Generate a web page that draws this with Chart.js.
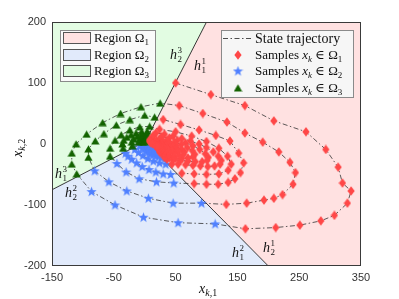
<!DOCTYPE html>
<html>
<head>
<meta charset="utf-8">
<script src="https://cdn.jsdelivr.net/npm/chart.js@4.4.0/dist/chart.umd.min.js"></script>
<style>
  html, body { margin: 0; padding: 0; background: #fff; }
  #wrap { width: 399px; height: 299px; }
</style>
</head>
<body>
<div id="wrap"><canvas id="chart" width="399" height="299"></canvas></div>
<script>
// axis ticks
var xTicks = [-150, -50, 50, 150, 250, 350];
var yTicks = [-200, -100, 0, 100, 200];

// region polygons (data coords), all share the corner where the hyperplanes meet
var regionRed   = [[1, 4], [100, 200], [350, 200], [350, -200], [200, -200]];
var regionGreen = [[1, 4], [-150, -75], [-150, 200], [100, 200]];
var regionBlue  = [[1, 4], [200, -200], [-150, -200], [-150, -75]];
var hyperplanes = [[[1, 4], [100, 200]], [[1, 4], [200, -200]], [[1, 4], [-150, -75]]];

// state trajectory, in time order (one line per arc)
var trajX = [
  50, 107, 162, 209, 261, 293, 313, 320, 334, 328, 307, 285, 251, 212, 163,
  114, 54, -2, -48, -86,
  -110, -118, -118, -111, -94, -68, -39, -6, 25,
  56, 94, 133, 162, 191, 217, 235, 244, 240, 223, 209, 193, 165, 132,
  92, 46, 6, -29, -58, -81,
  -91, -91, -80, -66, -46, -24, 0, 16,
  30, 58, 88, 115, 138, 152, 160, 155, 146, 135, 119, 100, 80,
  47, 19, -9, -30, -45,
  -56, -56, -48, -38, -24, -8, 8,
  24, 50, 76, 100, 120, 134, 140, 135, 120, 100, 80, 60,
  42, 30, 18, 7, -4, -13, -21, -27, -31,
  -35, -36, -34, -29, -22, -14, -5, 4,
  18, 32, 46, 60, 74, 88, 100, 111, 119, 124, 122, 113, 102, 90, 78, 66, 54, 44,
  34, 24, 14, 5, -3, -10, -16,
  -20, -21, -18, -12, -5, 3,
  14, 27, 40, 53, 66, 78, 89, 98, 103, 101, 93, 82, 70, 58, 46, 36,
  27, 18, 9, 2, -4, -8,
  -10, -8, -3, 4,
  12, 24, 36, 48, 59, 69, 77, 81, 78, 70, 60, 50, 40, 32,
  23, 15, 8, 3, -1,
  -3, -1, 2,
  8, 19, 30, 41, 51, 59, 64, 63, 56, 47, 38, 30,
  22, 14, 8, 3, 0,
  0,
  8, 18, 28, 38, 46, 52, 53, 47, 39, 31, 25,
  18, 12, 7, 4,
  0,
  9, 18, 27, 35, 41, 43, 38, 31, 24,
  17, 11, 7, 5,
  10, 19, 27, 33, 36, 32, 26,
  19, 13, 9,
  13, 21, 28, 31, 28, 22,
  16, 13,
  17, 23, 26, 24, 21, 19, 21
];
var trajY = [
  100, 81, 63, 38, 20, -9, -38, -64, -77, -97, -117, -126, -133, -137, -139,
  -131, -129, -120, -100, -78,
  -49, -33, -15, 0, 16, 35, 50, 61, 67,
  63, 50, 36, 18, 3, -13, -30, -47, -66, -83, -89, -92, -97, -99,
  -97, -97, -89, -77, -62, -44,
  -22, -8, 5, 17, 31, 40, 47, 44,
  40, 32, 23, 14, 5, -15, -31, -47, -57, -63, -66, -66, -65,
  -64, -62, -57, -46, -32,
  -20, -7, 6, 15, 23, 28, 29,
  24, 20, 13, 4, -7, -20, -33, -43, -49, -50, -49, -48,
  -50, -49, -46, -42, -37, -31, -25, -20, -15,
  -7, 0, 6, 11, 15, 18, 20, 21,
  18, 16, 13, 9, 5, 0, -6, -13, -20, -27, -33, -36, -37, -36, -35, -34, -33, -33,
  -33, -31, -28, -24, -19, -14, -9,
  -3, 3, 8, 12, 15, 17,
  14, 12, 10, 6, 2, -3, -9, -16, -22, -27, -29, -29, -28, -27, -26, -25,
  -23, -20, -17, -12, -7, -2,
  3, 8, 11, 12,
  10, 8, 6, 3, -1, -6, -11, -17, -21, -23, -24, -24, -23, -22,
  -20, -17, -13, -8, -3,
  3, 7, 9,
  7, 6, 4, 1, -3, -8, -13, -17, -19, -20, -19, -18,
  -16, -13, -9, -4, 1,
  5,
  5, 4, 2, -1, -5, -9, -13, -15, -16, -15, -14,
  -13, -10, -6, -2,
  4,
  3, 2, 0, -3, -7, -10, -12, -13, -12,
  -11, -8, -4, 0,
  2, 0, -2, -5, -8, -10, -10,
  -9, -6, -3,
  0, -1, -3, -6, -8, -8,
  -6, -3,
  -2, -3, -5, -6, -6, -4, -4
];
// which region each arc lies in (1 = red, 2 = blue, 3 = green) and how many samples it has
var arcRegion = [1, 2, 3, 1, 2, 3, 1, 2, 3, 1, 2, 3, 1, 2, 3, 1, 2, 3, 1, 2, 3, 1, 2, 3, 1, 2, 3, 1, 2, 1, 2, 1, 2, 1];
var arcLength = [15, 5, 9, 14, 6, 8, 13, 5, 7, 12, 9, 8, 18, 7, 6, 16, 6, 4, 14, 5, 3, 12, 5, 1, 11, 4, 1, 9, 4, 7, 3, 6, 2, 7];

var trajRegion = [];
arcRegion.forEach(function (r, i) {
  for (var k = 0; k < arcLength[i]; k++) trajRegion.push(r);
});
if (trajRegion.length !== trajX.length || trajX.length !== trajY.length) {
  console.error('length mismatch', trajRegion.length, trajX.length, trajY.length);
}

var RED = '#ff4747', BLUE = '#4f80ff', GREEN = '#136300';
var FILL = { 1: '#ffe1e1', 2: '#e1eafb', 3: '#e2fce2' };
var SERIF = '"Liberation Serif", "DejaVu Serif", serif';

function makeMarker(kind, color) {
  var c = document.createElement('canvas');
  var g;
  if (kind === 'diamond') {
    c.width = 8; c.height = 10;
    g = c.getContext('2d');
    g.beginPath();
    g.moveTo(4, 0.3); g.lineTo(7.6, 5); g.lineTo(4, 9.7); g.lineTo(0.4, 5);
  } else if (kind === 'star') {
    c.width = 11; c.height = 11;
    g = c.getContext('2d');
    g.beginPath();
    for (var i = 0; i < 10; i++) {
      var r = i % 2 === 0 ? 5.4 : 2.2;
      var a = -Math.PI / 2 + i * Math.PI / 5;
      var px = 5.5 + r * Math.cos(a), py = 5.9 + r * Math.sin(a);
      if (i === 0) g.moveTo(px, py); else g.lineTo(px, py);
    }
  } else {
    c.width = 9; c.height = 8;
    g = c.getContext('2d');
    g.beginPath();
    g.moveTo(4.5, 0.3); g.lineTo(8.7, 7.6); g.lineTo(0.3, 7.6);
  }
  g.closePath();
  g.fillStyle = color;
  g.fill();
  return c;
}
var markers = {
  1: makeMarker('diamond', RED),
  2: makeMarker('star', BLUE),
  3: makeMarker('triangle', GREEN)
};

function samples(region) {
  var out = [];
  for (var i = 0; i < trajX.length; i++) {
    if (trajRegion[i] === region) out.push({ x: trajX[i], y: trajY[i] });
  }
  return out;
}
var path = trajX.map(function (x, i) { return { x: x, y: trajY[i] }; });

// draws text pieces one after another: [text, font, dy]
function rich(ctx, x, y, parts) {
  ctx.textBaseline = 'alphabetic';
  ctx.textAlign = 'left';
  parts.forEach(function (p) {
    ctx.font = p[1];
    ctx.fillText(p[0], x, y + (p[2] || 0));
    x += ctx.measureText(p[0]).width;
  });
  return x;
}
function hLabel(ctx, x, y, sup, sub) {
  ctx.fillStyle = '#111';
  ctx.font = 'italic 14px ' + SERIF;
  ctx.textAlign = 'left';
  ctx.textBaseline = 'alphabetic';
  ctx.fillText('h', x, y);
  var w = ctx.measureText('h').width + 0.5;
  ctx.font = '9px ' + SERIF;
  ctx.fillText(sup, x + w, y - 6);
  ctx.fillText(sub, x + w, y + 3);
}

var backdrop = {
  id: 'backdrop',
  beforeDatasetsDraw: function (chart) {
    var ctx = chart.ctx, a = chart.chartArea;
    var sx = chart.scales.x, sy = chart.scales.y;
    ctx.save();
    ctx.beginPath();
    ctx.rect(a.left, a.top, a.right - a.left, a.bottom - a.top);
    ctx.clip();
    [[regionRed, 1], [regionGreen, 3], [regionBlue, 2]].forEach(function (r) {
      ctx.beginPath();
      r[0].forEach(function (p, i) {
        var px = sx.getPixelForValue(p[0]), py = sy.getPixelForValue(p[1]);
        if (i === 0) ctx.moveTo(px, py); else ctx.lineTo(px, py);
      });
      ctx.closePath();
      ctx.fillStyle = FILL[r[1]];
      ctx.fill();
    });
    ctx.strokeStyle = '#222';
    ctx.lineWidth = 0.9;
    hyperplanes.forEach(function (h) {
      ctx.beginPath();
      ctx.moveTo(sx.getPixelForValue(h[0][0]), sy.getPixelForValue(h[0][1]));
      ctx.lineTo(sx.getPixelForValue(h[1][0]), sy.getPixelForValue(h[1][1]));
      ctx.stroke();
    });
    ctx.restore();
  },
  afterDraw: function (chart) {
    var ctx = chart.ctx, a = chart.chartArea;
    ctx.save();
    ctx.strokeStyle = '#3a3a3a';
    ctx.lineWidth = 1;
    ctx.strokeRect(a.left + 0.5, a.top + 0.5, a.right - a.left - 1, a.bottom - a.top - 1);

    // hyperplane labels
    hLabel(ctx, 194, 70, '1', '1');
    hLabel(ctx, 170, 59, '3', '2');
    hLabel(ctx, 55, 178, '3', '1');
    hLabel(ctx, 65, 197, '2', '2');
    hLabel(ctx, 232, 257, '2', '1');
    hLabel(ctx, 263, 252, '1', '2');

    // left legend: regions
    ctx.fillStyle = '#fafafa';
    ctx.fillRect(60, 30, 95, 51);
    ctx.strokeStyle = '#8a8a8a';
    ctx.strokeRect(60.5, 30.5, 95, 51);
    [[1, 38], [2, 55], [3, 71]].forEach(function (e) {
      ctx.fillStyle = FILL[e[0]];
      ctx.fillRect(63, e[1] - 6, 28, 12);
      ctx.strokeStyle = '#555';
      ctx.strokeRect(63.5, e[1] - 5.5, 27, 11);
      ctx.fillStyle = '#111';
      rich(ctx, 94, e[1] + 4, [['Region \u03a9', '13px ' + SERIF], [String(e[0]), '9px ' + SERIF, 3]]);
    });

    // right legend: trajectory and samples
    ctx.fillStyle = '#f6f6f6';
    ctx.fillRect(221, 30, 132, 67);
    ctx.strokeStyle = '#8a8a8a';
    ctx.strokeRect(221.5, 30.5, 132, 67);
    ctx.strokeStyle = '#222';
    ctx.lineWidth = 0.8;
    ctx.setLineDash([5, 2.5, 1.5, 2.5]);
    ctx.beginPath();
    ctx.moveTo(223, 38.5); ctx.lineTo(253, 38.5);
    ctx.stroke();
    ctx.setLineDash([]);
    ctx.fillStyle = '#111';
    rich(ctx, 255, 43, [['State trajectory', '14px ' + SERIF]]);
    [[1, 55], [2, 71], [3, 88]].forEach(function (e) {
      var m = markers[e[0]];
      ctx.drawImage(m, 238 - m.width / 2, e[1] - m.height / 2);
      ctx.fillStyle = '#111';
      rich(ctx, 255, e[1] + 4, [
        ['Samples ', '13px ' + SERIF],
        ['x', 'italic 13px ' + SERIF],
        ['k', 'italic 9px ' + SERIF, 3],
        [' \u2208 \u03a9', '13px ' + SERIF],
        [String(e[0]), '9px ' + SERIF, 3]
      ]);
    });

    // axis titles
    ctx.fillStyle = '#111';
    rich(ctx, 199, 293, [['x', 'italic 14px ' + SERIF], ['k', 'italic 10px ' + SERIF, 3], [',1', '10px ' + SERIF, 3]]);
    ctx.translate(22, 157);
    ctx.rotate(-Math.PI / 2);
    rich(ctx, 0, 0, [['x', 'italic 14px ' + SERIF], ['k', 'italic 10px ' + SERIF, 3], [',2', '10px ' + SERIF, 3]]);
    ctx.restore();
  }
};

function tickSetter(list) {
  return function (scale) { scale.ticks = list.map(function (v) { return { value: v }; }); };
}

new Chart(document.getElementById('chart'), {
  type: 'scatter',
  data: {
    datasets: [
      { label: 'Samples in \u03a91', data: samples(1), pointStyle: markers[1], pointRadius: 4, pointHoverRadius: 4 },
      { label: 'Samples in \u03a93', data: samples(3), pointStyle: markers[3], pointRadius: 4, pointHoverRadius: 4 },
      { label: 'Samples in \u03a92', data: samples(2), pointStyle: markers[2], pointRadius: 5, pointHoverRadius: 5 },
      {
        label: 'State trajectory', data: path, showLine: true, pointRadius: 0,
        borderColor: '#333', borderWidth: 0.8, borderDash: [5, 2.5, 1.5, 2.5], tension: 0
      }
    ]
  },
  options: {
    responsive: false,
    devicePixelRatio: 1,
    animation: false,
    layout: { padding: { left: 0, top: 22, right: 38, bottom: 0 } },
    plugins: { legend: { display: false }, tooltip: { enabled: false } },
    scales: {
      x: {
        type: 'linear', min: -150, max: 350,
        afterBuildTicks: tickSetter(xTicks),
        afterFit: function (s) { s.height = 33; },
        grid: { display: false, drawTicks: false },
        border: { display: false },
        ticks: { color: '#333', padding: 5, font: { family: '"Liberation Sans", Arial, sans-serif', size: 11 } }
      },
      y: {
        type: 'linear', min: -200, max: 200,
        afterBuildTicks: tickSetter(yTicks),
        afterFit: function (s) { s.width = 52; },
        grid: { display: false, drawTicks: false },
        border: { display: false },
        ticks: { color: '#333', padding: 6, font: { family: '"Liberation Sans", Arial, sans-serif', size: 11 } }
      }
    }
  },
  plugins: [backdrop]
});
</script>
</body>
</html>
